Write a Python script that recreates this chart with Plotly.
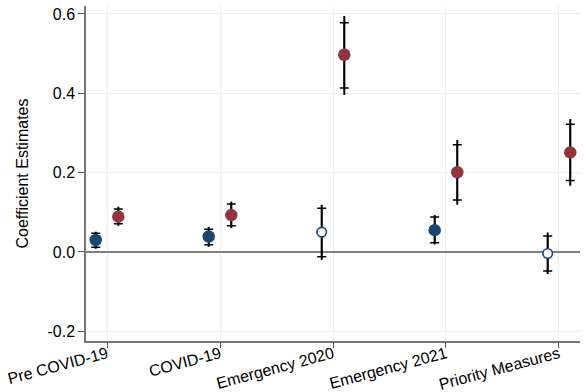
import plotly.graph_objects as go

categories = ["Pre COVID-19", "COVID-19", "Emergency 2020", "Emergency 2021", "Priority Measures"]

# Series 1 (blue)
blue_est = [0.030, 0.039, 0.050, 0.055, -0.004]
blue_lo90 = [0.012, 0.018, -0.012, 0.023, -0.048]
blue_hi90 = [0.047, 0.057, 0.110, 0.088, 0.040]
blue_lo95 = [0.008, 0.013, -0.020, 0.019, -0.056]
blue_hi95 = [0.051, 0.063, 0.119, 0.093, 0.049]
blue_sig = [True, True, False, True, False]

# Series 2 (red)
red_est = [0.089, 0.093, 0.497, 0.201, 0.251]
red_lo90 = [0.071, 0.066, 0.413, 0.131, 0.180]
red_hi90 = [0.108, 0.121, 0.578, 0.270, 0.322]
red_lo95 = [0.066, 0.060, 0.396, 0.119, 0.167]
red_hi95 = [0.114, 0.127, 0.595, 0.282, 0.335]
red_sig = [True, True, True, True, True]

y_tickvals = [-0.2, 0.0, 0.2, 0.4, 0.6]
y_ticktext = ["-0.2", "0.0", "0.2", "0.4", "0.6"]

BLUE = "#1a476f"
RED = "#90353b"
FONT = "Liberation Sans, Arial, sans-serif"

fig = go.Figure()

def add_series(est, lo90, hi90, lo95, hi95, sig, color, offset):
    xs = [i + offset for i in range(len(est))]
    # 95% line (no caps)
    fig.add_trace(go.Scatter(
        x=xs, y=est, mode="markers",
        marker=dict(size=1, opacity=0),
        error_y=dict(type="data", symmetric=False,
                     array=[h - e for h, e in zip(hi95, est)],
                     arrayminus=[e - l for e, l in zip(est, lo95)],
                     width=0, thickness=2, color="black"),
        showlegend=False, hoverinfo="skip"))
    # 90% caps + markers
    fig.add_trace(go.Scatter(
        x=xs, y=est, mode="markers",
        marker=dict(size=[12.5 if s else 9.5 for s in sig], symbol="circle",
                    opacity=1,
                    color=[color if s else "white" for s in sig],
                    line=dict(color=color, width=[0 if s else 1.6 for s in sig])),
        error_y=dict(type="data", symmetric=False,
                     array=[h - e for h, e in zip(hi90, est)],
                     arrayminus=[e - l for e, l in zip(est, lo90)],
                     width=4.5, thickness=1.5, color="black"),
        showlegend=False))

add_series(blue_est, blue_lo90, blue_hi90, blue_lo95, blue_hi95, blue_sig, BLUE, -0.1)
add_series(red_est, red_lo90, red_hi90, red_lo95, red_hi95, red_sig, RED, 0.1)

fig.update_layout(
    width=586, height=392,
    margin=dict(l=86, r=6, t=6, b=51),
    paper_bgcolor="white", plot_bgcolor="white",
    font=dict(family=FONT, size=16, color="black"),
    showlegend=False,
)
fig.update_xaxes(
    range=[-0.186, 4.186],
    tickvals=list(range(len(categories))), ticktext=categories,
    tickangle=-15, ticks="outside", ticklen=5, tickcolor="#555",
    showgrid=True, gridcolor="#e8f0f2", gridwidth=1,
    showline=True, linecolor="#777", linewidth=1.5,
    zeroline=False, tickfont=dict(size=16), automargin=False,
    ticklabelstandoff=-9,
)
fig.update_yaxes(
    range=[-0.2245, 0.620],
    tickvals=y_tickvals, ticktext=y_ticktext,
    ticks="outside", ticklen=6, tickcolor="#555",
    showgrid=True, gridcolor="#e8f0f2", gridwidth=1,
    showline=True, linecolor="#777", linewidth=1.5,
    zeroline=True, zerolinecolor="#808080", zerolinewidth=1.5,
    title=dict(text="Coefficient Estimates", font=dict(size=16), standoff=15),
    tickfont=dict(size=16), automargin=False,
)

fig.write_html("out.html", config={"displayModeBar": False},
               post_script="document.body.style.margin='0';")
